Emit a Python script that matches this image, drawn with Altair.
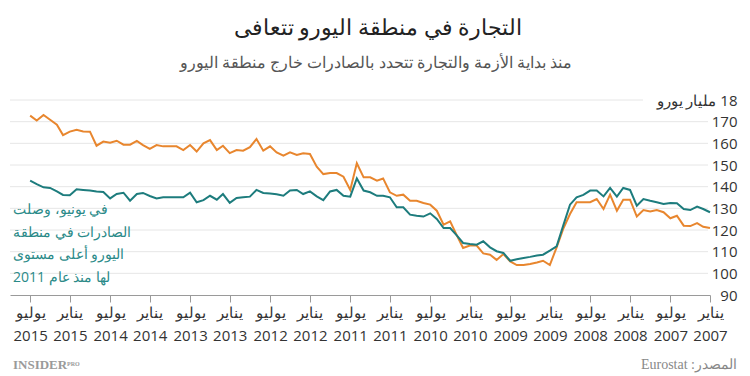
import altair as alt
import pandas as pd

# ---------------- data ----------------
dates = pd.date_range("2007-01-01", "2015-07-01", freq="MS").strftime("%Y-%m-%d").tolist()

# orange series (Jan 2007 -> Jul 2015), billion euro
outside_values = [
    120.9, 121.5, 123.2, 121.8, 122.0, 126.6, 125.4, 128.2, 129.2, 128.5, 129.2, 126.2,
    134.0, 134.0, 128.9, 136.3, 129.7, 134.3, 132.8, 132.8, 132.8, 127.4, 120.5, 112.0,
    103.8, 105.8, 105.0, 104.3, 103.8, 103.8, 105.5, 108.9, 106.2, 108.6, 109.2, 112.8,
    112.8, 111.7, 117.4, 124.0, 122.5, 128.9, 131.7, 132.5, 133.5, 133.5, 136.3, 135.8,
    137.4, 143.8, 142.8, 144.3, 144.3, 150.8, 138.5, 144.6, 146.3, 146.3, 145.8, 149.2,
    155.1, 155.4, 154.6, 155.8, 154.3, 155.8, 158.6, 156.6, 162.0, 158.2, 156.6, 156.9,
    155.5, 158.9, 156.9, 161.5, 160.0, 156.2, 159.2, 156.9, 158.6, 158.6, 158.6, 159.2,
    157.4, 159.2, 161.1, 159.4, 159.4, 161.2, 160.3, 160.8, 158.9, 165.4, 165.5, 166.3,
    165.4, 163.8, 168.6, 170.9, 173.1, 170.5, 172.8,
]
# teal series (Jan 2007 -> Jul 2015), billion euro
inside_values = [
    128.2, 129.7, 130.8, 129.2, 129.7, 132.3, 132.5, 132.0, 132.8, 133.5, 134.3, 131.2,
    138.5, 139.4, 135.4, 139.4, 135.5, 138.2, 138.2, 136.2, 135.1, 131.7, 122.0, 112.5,
    110.5, 108.6, 108.2, 107.6, 107.1, 106.5, 105.8, 109.4, 110.2, 112.0, 114.8, 113.2,
    113.5, 114.0, 117.4, 120.9, 120.9, 125.1, 127.7, 126.2, 126.6, 127.1, 130.5, 130.5,
    135.1, 135.8, 135.8, 137.4, 138.2, 143.8, 135.4, 135.8, 138.5, 137.8, 133.8, 135.5,
    137.8, 136.6, 138.5, 138.2, 135.8, 136.5, 136.8, 137.1, 138.5, 135.4, 135.1, 134.8,
    132.5, 136.6, 134.0, 135.8, 133.8, 132.8, 137.2, 135.1, 135.1, 135.1, 135.1, 134.6,
    135.7, 137.1, 136.6, 133.5, 137.2, 136.6, 134.6, 137.5, 137.8, 138.2, 138.5, 138.8,
    136.0, 136.2, 137.8, 139.4, 139.7, 141.2, 142.8,
]

series_names = ["خارج منطقة اليورو", "داخل منطقة اليورو"]
series_colors = ["#E8862E", "#1D7C7D"]

month_labels = {0: "يناير", 6: "يوليو"}
tick_years = list(range(2007, 2016))
y_ticks = [90, 100, 110, 120, 130, 140, 150, 160, 170, 180]
unit_label = "18 مليار يورو"

title_text = "التجارة في منطقة اليورو تتعافى"
subtitle_text = "منذ بداية الأزمة والتجارة تتحدد بالصادرات خارج منطقة اليورو"
note_lines = ["في يونيو، وصلت", "الصادرات في منطقة", "اليورو أعلى مستوى", "لها منذ عام 2011"]
source_text = "المصدر: Eurostat"
brand_text = "INSIDER"
brand_small = "PRO"

RLE, PDF = "\u202b", "\u202c"

df = pd.DataFrame({
    "date": dates * 2,
    "value": outside_values + inside_values,
    "series": [series_names[0]] * len(dates) + [series_names[1]] * len(dates),
})

# ---------------- scales / axes ----------------
W, H = 700, 195
tick_values = [alt.DateTime(year=y, month=m, date=1, utc=True)
               for y in tick_years for m in (1, 7) if not (y == 2015 and m > 7)]
label_expr = ("[utcmonth(datum.value) == 0 ? '%s' : '%s', '' + utcyear(datum.value)]"
              % (month_labels[0], month_labels[6]))

x_scale = alt.Scale(type="utc",
                    domain=[alt.DateTime(year=2007, month=1, date=1, utc=True),
                            alt.DateTime(year=2015, month=10, date=1, utc=True)],
                    reverse=True)
y_scale = alt.Scale(domain=[90, 180], nice=False, zero=False)

x_axis = alt.Axis(values=tick_values, labelExpr=label_expr, title=None,
                  grid=False, labelAngle=0, labelFontSize=15, labelColor="#333333",
                  labelFont="Open Sans", labelLineHeight=23, labelPadding=3,
                  labelFlush=False, labelOverlap=False,
                  tickColor="#9a9a9a", tickSize=7, domainColor="#9a9a9a")
y_axis = alt.Axis(orient="right", values=y_ticks, grid=False, ticks=False,
                  domain=False, labelAlign="right", labelPadding=27,
                  labelBaseline="middle", labelFontSize=15, labelColor="#333333",
                  labelFont="Open Sans", title=None, labelOverlap=False,
                  labelFlush=False, labelBound=False,
                  labelExpr="datum.value == 180 ? '%s' : datum.label"
                  % (RLE + unit_label + PDF))

lines = alt.Chart(df).mark_line(strokeWidth=2).encode(
    x=alt.X("date:T", scale=x_scale, axis=x_axis),
    y=alt.Y("value:Q", scale=y_scale, axis=y_axis),
    color=alt.Color("series:N", scale=alt.Scale(domain=series_names, range=series_colors),
                    legend=None),
)

grid_df = pd.DataFrame({"value": y_ticks[1:-1]})
grid = alt.Chart(grid_df).mark_rule(color="#e6e6e6", strokeWidth=1).encode(
    y=alt.Y("value:Q", scale=y_scale, axis=y_axis), x=alt.value(0), x2=alt.value(698))
grid_top = alt.Chart(pd.DataFrame({"value": [y_ticks[-1]]})).mark_rule(
    color="#e6e6e6", strokeWidth=1).encode(
    y=alt.Y("value:Q", scale=y_scale, axis=y_axis), x=alt.value(0), x2=alt.value(633))


def text_layer(txt, x, y, **kw):
    return alt.Chart(pd.DataFrame({"t": [txt]})).mark_text(**kw).encode(
        text="t:N", x=alt.value(x), y=alt.value(y))


title = text_layer(title_text, 368, -65, fontSize=22, color="#222222", align="center",
                   baseline="alphabetic", font="Open Sans")
subtitle = text_layer(subtitle_text, 366, -32, fontSize=16, color="#555555", align="center",
                      baseline="alphabetic", font="Open Sans")
note = alt.Chart(pd.DataFrame({"t": [note_lines]})).mark_text(
    fontSize=14, color="#2A8A88", align="left", baseline="top", lineHeight=22.5,
    font="Open Sans").encode(text="t", x=alt.value(3), y=alt.value(103))
source = text_layer(RLE + source_text + PDF, 727, 265, fontSize=14, color="#888888",
                    align="right", baseline="middle", font="Liberation Serif")
brand = text_layer(brand_text, 3, 265, fontSize=13, color="#9a9a9a", align="left",
                   baseline="middle", font="Liberation Serif", fontWeight="bold")
brand2 = text_layer(brand_small, 57, 264, fontSize=6, color="#9a9a9a", align="left",
                    baseline="middle", font="Liberation Serif", fontWeight="bold")

chart = alt.layer(grid, grid_top, lines, note, title, subtitle, source, brand, brand2).properties(
    width=W, height=H,
    padding={"left": 10, "top": 100, "right": 40, "bottom": 81},
    autosize=alt.AutoSizeParams(type="none"),
    background="white",
).configure_view(stroke=None)

chart.save("out.html", embed_options={"renderer": "svg", "actions": False})
